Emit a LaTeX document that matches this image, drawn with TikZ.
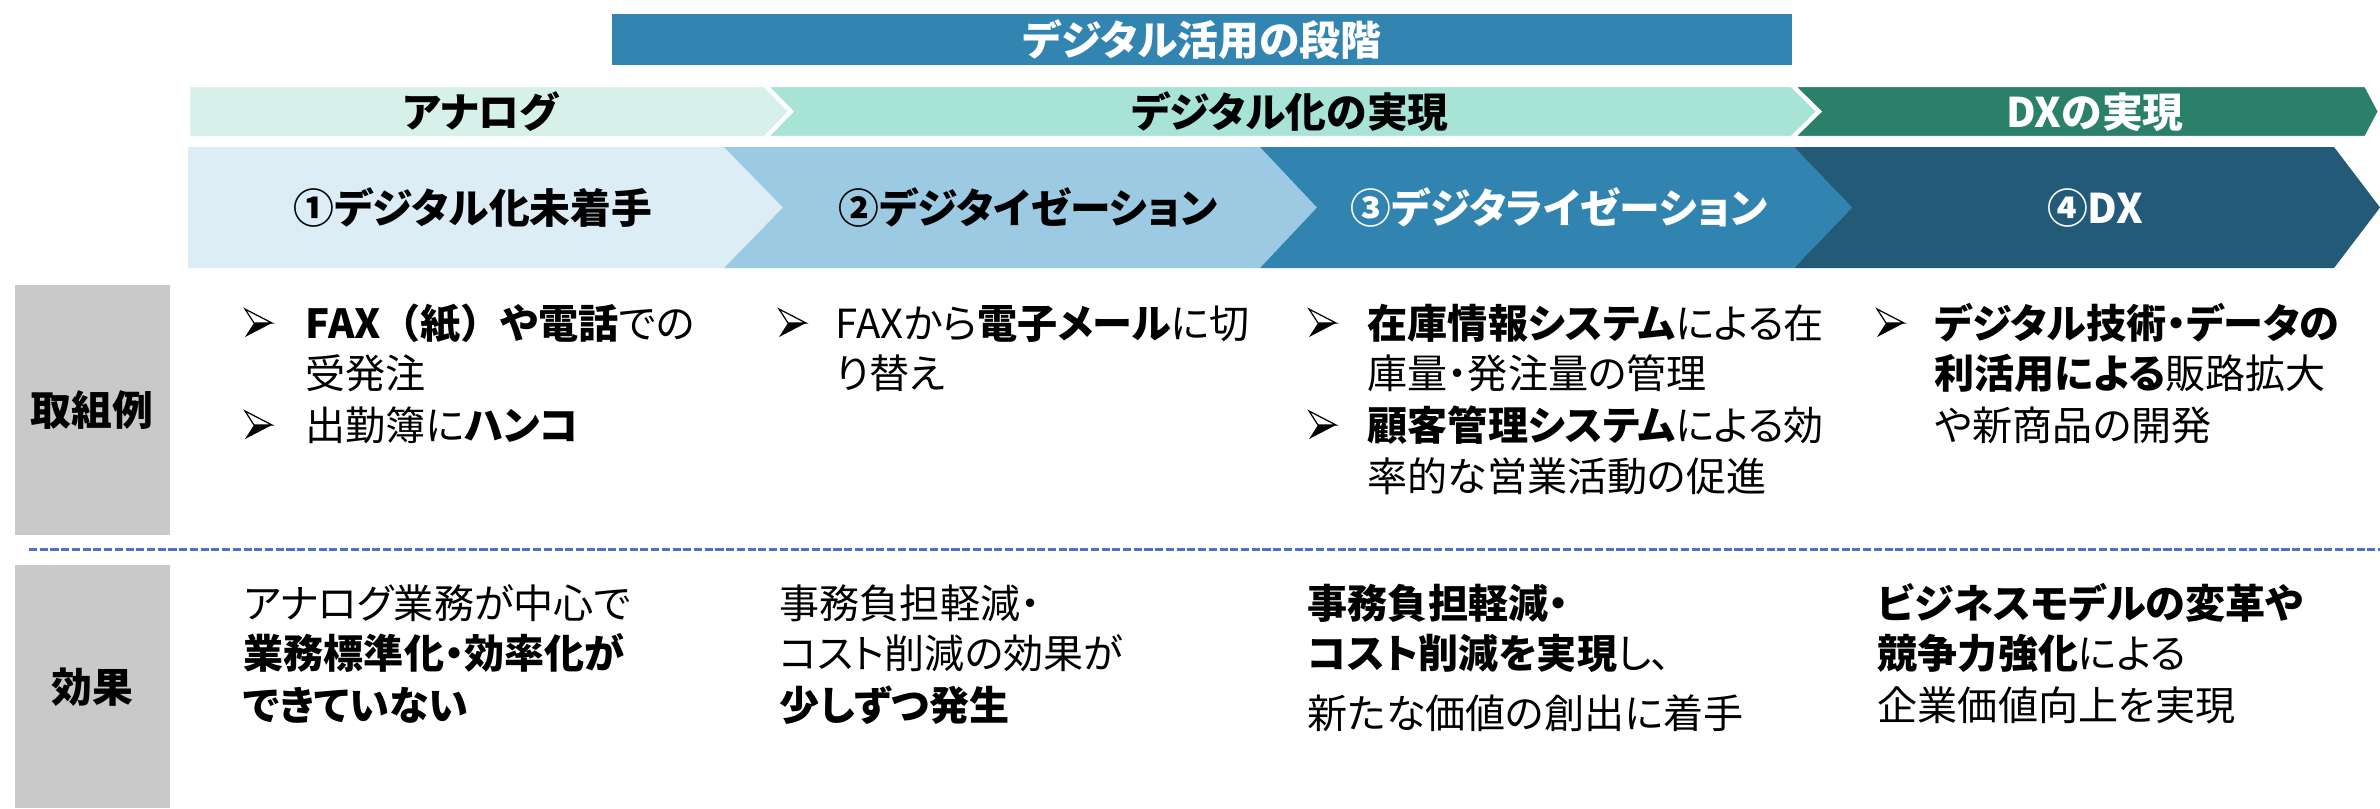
\documentclass[tikz,border=0pt]{standalone}
\usepackage{fontspec}
\setmainfont{Noto Sans CJK JP}[CharacterWidth=AlternateProportional]
\usepackage{tikz}
\usetikzlibrary{calc}

\definecolor{bandBlue}{RGB}{50,132,177}
\definecolor{phaseOne}{RGB}{213,241,233}
\definecolor{phaseTwo}{RGB}{168,228,214}
\definecolor{phaseThree}{RGB}{42,128,104}
\definecolor{stepOne}{RGB}{221,237,246}
\definecolor{stepTwo}{RGB}{157,202,227}
\definecolor{stepThree}{RGB}{49,131,176}
\definecolor{stepFour}{RGB}{34,90,120}
\definecolor{sideGray}{RGB}{201,201,201}
\definecolor{sepBlue}{RGB}{80,112,204}

\newcommand{\bodysize}{\fontsize{11.4}{14}\selectfont}
\newcommand{\headsize}{\fontsize{11.6}{14}\selectfont}
\newcommand{\fullw}[1]{{\addfontfeature{RawFeature=-palt}#1}}

\tikzset{
  head/.style={font=\headsize\bfseries, inner sep=0pt},
  body/.style={font=\bodysize, anchor=base west, inner sep=0pt},
  edge/.style={draw=white, line width=1.2pt},
  bullet/.pic={
    \filldraw[fill=white, line width=0.35pt, line join=miter] (0,-14) -- (27,0) -- (9,0) -- cycle;
    \fill (0,14) -- (27,0) -- (9,0) -- cycle;
  }
}

\begin{document}
\begin{tikzpicture}[x=0.01cm, y=-0.01cm]
  \useasboundingbox (0,0) rectangle (2380,808);

  % --- Top banner ---
  \fill[bandBlue] (612,14) rectangle (1792,65);
  \node[head, text=white] (usage) at (1202,40) {デジタル活用の段階};

  % --- Phase chevrons (row 2) ---
  \fill[phaseOne, edge] (188,85) -- (765,85) -- (791,111.5) -- (765,138) -- (188,138) -- cycle;
  \fill[phaseTwo, edge] (765,85) -- (1792,85) -- (1819,111.5) -- (1792,138) -- (765,138) -- (791,111.5) -- cycle;
  \fill[phaseThree, edge] (1792,85) -- (2366,85) -- (2380,111.5) -- (2366,138) -- (1792,138) -- (1819,111.5) -- cycle;
  \node[head] (analog) at (481,112) {アナログ};
  \node[head] (digital) at (1290,112) {デジタル化の実現};
  \node[head, text=white] (dxreal) at (2095,112) {DXの実現};

  % --- Step chevrons (row 3) ---
  \fill[stepOne] (188,147) -- (724,147) -- (783,207.5) -- (724,268) -- (188,268) -- cycle;
  \fill[stepTwo] (724,147) -- (1260,147) -- (1317,207.5) -- (1260,268) -- (724,268) -- (783,207.5) -- cycle;
  \fill[stepThree] (1260,147) -- (1794,147) -- (1852,207.5) -- (1794,268) -- (1260,268) -- (1317,207.5) -- cycle;
  \fill[stepFour] (1794,147) -- (2334,147) -- (2380,207.5) -- (2334,268) -- (1794,268) -- (1852,207.5) -- cycle;
  \node[head] (stepA) at (473,208) {①デジタル化未着手};
  \node[head] (stepB) at (1028,208) {②デジタイゼーション};
  \node[head, text=white] (stepC) at (1559,208) {③デジタライゼーション};
  \node[head, text=white] (stepD) at (2095,208) {④DX};

  % --- Side labels ---
  \fill[sideGray] (15,285) rectangle (170,535);
  \fill[sideGray] (15,565) rectangle (170,808);
  \node[head] (examples) at (92,410) {取組例};
  \node[head] (effects) at (92,687) {効果};

  % separator between the two rows
  \draw[sepBlue, line width=0.85pt, dash pattern=on 2.3pt off 0.75pt] (29,549) -- (2380,549);

  % --- Examples, column 1 ---
  \pic at (245,323) {bullet};
  \node[body] (exA1) at (305,338) {\textbf{FAX\fullw{（紙）}や電話}での};
  \node[body] (exA2) at (305,388) {受発注};
  \pic at (245,425) {bullet};
  \node[body] (exA3) at (305,440) {出勤簿に\textbf{ハンコ}};

  % --- Examples, column 2 ---
  \pic at (779,323) {bullet};
  \node[body] (exB1) at (835,338) {FAXから\textbf{電子メール}に切};
  \node[body] (exB2) at (835,388) {り替え};

  % --- Examples, column 3 ---
  \pic at (1309,323) {bullet};
  \node[body] (exC1) at (1367,338) {\textbf{在庫情報システム}による在};
  \node[body] (exC2) at (1367,388) {庫量・発注量の管理};
  \pic at (1309,425) {bullet};
  \node[body] (exC3) at (1367,440) {\textbf{顧客管理システム}による効};
  \node[body] (exC4) at (1367,491) {率的な営業活動の促進};

  % --- Examples, column 4 ---
  \pic at (1877,323) {bullet};
  \node[body] (exD1) at (1934,338) {\textbf{デジタル技術・データの}};
  \node[body] (exD2) at (1934,388) {\textbf{利活用による}販路拡大};
  \node[body] (exD3) at (1934,440) {や新商品の開発};

  % --- Effects ---
  \node[body] (efA1) at (243,618) {アナログ業務が中心で};
  \node[body] (efA2) at (243,668) {\textbf{業務標準化・効率化が}};
  \node[body] (efA3) at (243,720) {\textbf{できていない}};

  \node[body] (efB1) at (779,618) {事務負担軽減・};
  \node[body] (efB2) at (779,668) {コスト削減の効果が};
  \node[body] (efB3) at (779,720) {\textbf{少しずつ発生}};

  \node[body] (efC1) at (1307,618) {\textbf{事務負担軽減・}};
  \node[body] (efC2) at (1307,668) {\textbf{コスト削減を実現}し、};
  \node[body] (efC3) at (1307,728) {新たな価値の創出に着手};

  \node[body] (efD1) at (1877,618) {\textbf{ビジネスモデルの変革や}};
  \node[body] (efD2) at (1877,668) {\textbf{競争力強化}による};
  \node[body] (efD3) at (1877,720) {企業価値向上を実現};

\end{tikzpicture}
\end{document}
